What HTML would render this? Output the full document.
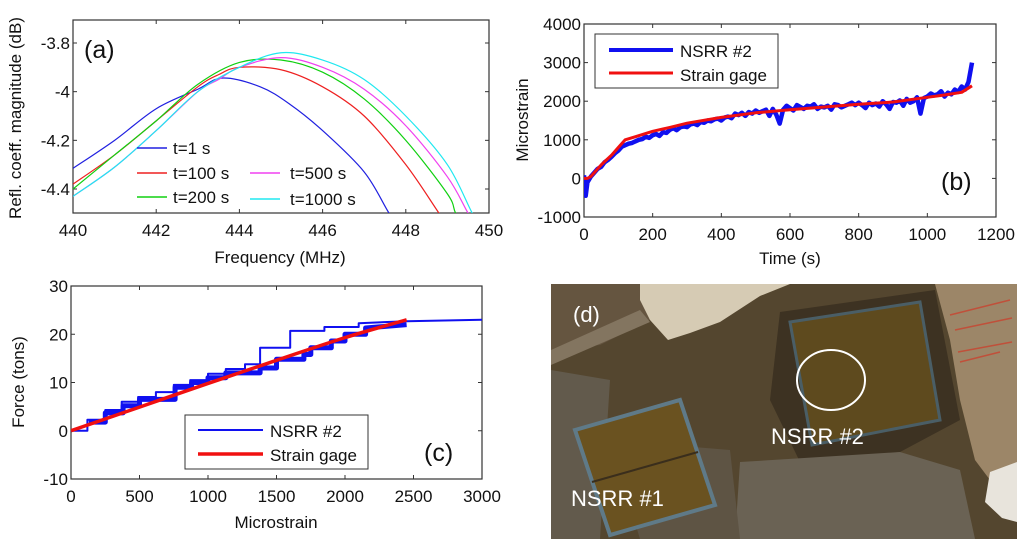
<!DOCTYPE html>
<html><head><meta charset="utf-8"><style>
html,body{margin:0;padding:0;background:#fff;}
svg{display:block;font-family:"Liberation Sans",sans-serif;}
</style></head><body>
<svg id="fig" width="1024" height="545" viewBox="0 0 1024 545">
<defs>
<clipPath id="clipA"><rect x="73" y="20" width="416" height="193"/></clipPath>
<clipPath id="clipB"><rect x="584" y="24" width="412" height="193"/></clipPath>
<clipPath id="clipC"><rect x="71" y="286" width="411" height="193"/></clipPath>
</defs>
<g id="panelA"></g>
<g id="panelB"></g>
<g id="panelC"></g>
<g id="panelD">
 <rect x="551" y="284" width="466" height="255" fill="#54462f"/>
 <polygon points="551,284 640,284 650,320 600,345 551,350" fill="#655540"/>
 <polygon points="551,350 640,310 650,322 551,365" fill="#837560"/>
 <polygon points="551,370 610,380 600,539 551,539" fill="#625a4c"/>
 <polygon points="640,284 790,284 760,296 720,322 690,333 668,340 650,320 640,300" fill="#d6cbb4"/>
 <polygon points="780,312 935,290 960,420 900,452 800,462 770,400" fill="#3d3222"/>
 <polygon points="790,322 920,302 940,420 812,445" fill="#5e4a1e" stroke="#4a5e66" stroke-width="3"/>
 <polygon points="740,462 900,452 960,470 975,539 735,539" fill="#6a6254"/>
 <polygon points="610,440 730,450 740,539 640,539" fill="#5e5444"/>
 <polygon points="935,284 1017,284 1017,470 990,480 975,460 960,400 950,340" fill="#9c8668"/>
 <g stroke="#c0503a" stroke-width="1.5">
  <line x1="950" y1="315" x2="1010" y2="300"/><line x1="955" y1="330" x2="1012" y2="318"/><line x1="958" y1="352" x2="1012" y2="342"/><line x1="960" y1="362" x2="1000" y2="352"/>
 </g>
 <polygon points="575,430 680,400 715,505 610,535" fill="#6a5220" stroke="#5f7a88" stroke-width="4"/>
 <line x1="592" y1="482" x2="698" y2="452" stroke="#3a2e1c" stroke-width="2"/>
 <polygon points="990,472 1017,462 1017,522 1002,518 985,502" fill="#e8e4dc"/>
 <ellipse cx="831" cy="380" rx="34" ry="30" fill="none" stroke="#fff" stroke-width="2"/>
 <text x="573" y="322" font-size="22" fill="#fff">(d)</text>
 <text x="771" y="444" font-size="22" fill="#fff">NSRR #2</text>
 <text x="571" y="506" font-size="22" fill="#fff">NSRR #1</text>
</g>
</svg>
<script>
// ---- Panel (a) data ----
const aFreq1 = [440,441,442,443,443.6,444.5,445.2,446,447,447.6,448];
const aT1 = [-4.315,-4.2,-4.07,-3.99,-3.944,-3.98,-4.05,-4.16,-4.33,-4.5,-4.6];
const aFreq100 = [440,441,442,443,443.5,444,445,446,447,448,448.8,449.2];
const aT100 = [-4.38,-4.26,-4.12,-3.98,-3.93,-3.9,-3.91,-3.98,-4.1,-4.3,-4.5,-4.6];
const aFreq200 = [440,441,442,443,444,445,446,447,448,449,449.2,449.5];
const aT200 = [-4.4,-4.26,-4.12,-3.97,-3.88,-3.87,-3.92,-4.03,-4.2,-4.42,-4.5,-4.58];
const aFreq500 = [440,441,442,443,443.5,444,445,446,447,448,449,449.5,449.8];
const aT500 = [-4.43,-4.31,-4.16,-4.0,-3.95,-3.9,-3.86,-3.9,-3.99,-4.14,-4.35,-4.5,-4.58];
const aFreq1000 = [440,441,442,443,444,445,446,447,448,449,449.6,449.9];
const aT1000 = [-4.43,-4.31,-4.16,-4.0,-3.9,-3.84,-3.87,-3.95,-4.1,-4.3,-4.5,-4.58];
const aXTicks = [440,442,444,446,448,450];
const aYTicks = [-3.8,-4,-4.2,-4.4];
const aYTickLabels = ["-3.8","-4","-4.2","-4.4"];
// ---- Panel (b) data ----
const bRedT = [0,10,20,50,80,100,120,150,200,250,300,400,500,600,700,800,900,1000,1050,1100,1130];
const bRedV = [0,0,50,350,600,800,1000,1080,1220,1320,1430,1580,1700,1780,1850,1920,1980,2100,2160,2230,2400];
const bBlueT = [0,5,10,20,30,40,50,60,70,80,90,100,110,120,130,140,150,160,170,180,190,200,210,220,230,240,250,260,270,280,290,300,310,320,330,340,350,360,370,380,390,400,410,420,430,440,450,460,470,480,490,500,510,520,530,540,550,560,570,580,590,600,610,620,630,640,650,660,670,680,690,700,710,720,730,740,750,760,770,780,790,800,810,820,830,840,850,860,870,880,890,900,910,920,930,940,950,960,970,980,990,1000,1010,1020,1030,1040,1050,1060,1070,1080,1090,1100,1110,1120,1130];
const bBlueV = [80,-450,-100,50,150,250,300,420,480,560,650,720,820,860,900,920,960,1000,1020,1080,1050,1120,1150,1100,1200,1180,1260,1300,1250,1320,1350,1330,1400,1420,1380,1460,1440,1500,1480,1530,1550,1500,1580,1600,1560,1680,1640,1700,1620,1720,1680,1760,1700,1740,1780,1620,1800,1650,1420,1780,1880,1820,1760,1900,1850,1800,1880,1860,1920,1800,1860,1840,1880,1780,1920,1900,1840,1880,1920,1960,1900,1960,1900,1820,1960,1900,1940,1860,2000,1920,1800,1980,1960,2020,1880,2060,1960,2000,2100,1680,2080,2120,2200,2150,2180,2260,2120,2220,2180,2300,2240,2380,2300,2500,3000];
const bXTicks = [0,200,400,600,800,1000,1200];
const bYTicks = [-1000,0,1000,2000,3000,4000];
// ---- Panel (c) data ----
const cRedX = [0,500,1000,1500,2000,2450];
const cRedY = [0,4.9,9.8,14.6,19.3,23];
const cBlueX = [0,120,120,250,250,370,370,490,490,620,620,750,750,870,870,1000,1000,1130,1130,1270,1270,1380,1380,1600,1600,1850,1850,2100,2100,2450,3000];
const cBlueY = [0,0,2.3,2.3,4.3,4.3,6,6,7,7,8,8,9.5,9.5,10.5,10.5,11.8,11.8,12.8,12.8,13.8,13.8,17.2,17.2,20.7,20.7,21.5,21.5,22.3,22.7,23];
const cBandX = [130,250,250,380,380,500,500,760,760,880,880,1000,1000,1130,1130,1380,1380,1500,1500,1700,1700,1750,1750,1900,1900,2000,2000,2150,2150,2450];
const cBandY = [1.8,1.8,3.7,3.7,5.2,5.2,6.5,6.5,9,9,10,10,11,11,12,12,13,13,14.8,14.8,15.8,15.8,17.2,17.2,18.6,18.6,20,20,21.3,22];
const cXTicks = [0,500,1000,1500,2000,2500,3000];
const cYTicks = [-10,0,10,20,30];

const NS = "http://www.w3.org/2000/svg";
function el(tag, attrs, parent){const e=document.createElementNS(NS,tag);for(const k in attrs)e.setAttribute(k,attrs[k]);parent.appendChild(e);return e;}
function scale(d0,d1,p0,p1){return v=>p0+(v-d0)*(p1-p0)/(d1-d0);}

function axes(g, x0,y0,w,h, sx, sy, xt, yt, ylab, fs){
  const box=el('rect',{x:x0,y:y0,width:w,height:h,fill:'none',stroke:'#333','stroke-width':1.2},g);
  
  
  xt.forEach(v=>{
    const x=sx(v);
    el('line',{x1:x,y1:y0+h,x2:x,y2:y0+h-4,stroke:'#333'},g);
    el('line',{x1:x,y1:y0,x2:x,y2:y0+4,stroke:'#333'},g);
    const t=el('text',{x:x,y:y0+h+23,'font-size':fs,'text-anchor':'middle',fill:'#111'},g);
    t.textContent=String(v);
    
    
  });
  yt.forEach((v,i)=>{
    const y=sy(v);
    el('line',{x1:x0,y1:y,x2:x0+4,y2:y,stroke:'#333'},g);
    el('line',{x1:x0+w,y1:y,x2:x0+w-4,y2:y,stroke:'#333'},g);
    const t=el('text',{x:x0-3,y:y+6,'font-size':fs,'text-anchor':'end',fill:'#111'},g);
    t.textContent=ylab?ylab[i]:String(v);
    
    
  });
}
function line(g,xs,ys,sx,sy,color,w,clip,name){
  const pts=xs.map((x,i)=>sx(x).toFixed(1)+','+sy(ys[i]).toFixed(1)).join(' ');
  const p=el('polyline',{points:pts,fill:'none',stroke:color,'stroke-width':w,'stroke-linejoin':'round','clip-path':'url(#'+clip+')'},g);
  
  
  return p;
}
function smooth(g,xs,ys,sx,sy,color,w,clip,name){
  const P=xs.map((x,i)=>[sx(x),sy(ys[i])]);
  let d='M'+P[0][0]+','+P[0][1];
  for(let i=0;i<P.length-1;i++){
    const p0=P[Math.max(0,i-1)],p1=P[i],p2=P[i+1],p3=P[Math.min(P.length-1,i+2)];
    const c1=[p1[0]+(p2[0]-p0[0])/6,p1[1]+(p2[1]-p0[1])/6];
    const c2=[p2[0]-(p3[0]-p1[0])/6,p2[1]-(p3[1]-p1[1])/6];
    d+=' C'+c1.join(',')+' '+c2.join(',')+' '+p2.join(',');
  }
  const p=el('path',{d:d,fill:'none',stroke:color,'stroke-width':w,'clip-path':'url(#'+clip+')'},g);
  
  
}
function txt(g,x,y,s,str,name,anchor,rot){
  const a={x:x,y:y,'font-size':s,fill:'#111','text-anchor':anchor||'start'};
  if(rot)a.transform='rotate(-90 '+x+' '+y+')';
  const t=el('text',a,g);t.textContent=str;
  
  
}

// Panel A
(function(){
  const g=document.getElementById('panelA');
  const sx=scale(440,450,73,489), sy=scale(-3.8,-4.4,43,189);
  axes(g,73,20,416,193,sx,sy,aXTicks,aYTicks,aYTickLabels,17);
  smooth(g,aFreq1,aT1,sx,sy,'#2020e0',1.2,'clipA','series-t1');
  smooth(g,aFreq100,aT100,sx,sy,'#ee2020',1.2,'clipA','series-t100');
  smooth(g,aFreq200,aT200,sx,sy,'#10d010',1.2,'clipA','series-t200');
  smooth(g,aFreq500,aT500,sx,sy,'#f040f0',1.2,'clipA','series-t500');
  smooth(g,aFreq1000,aT1000,sx,sy,'#20e8f0',1.2,'clipA','series-t1000');
  txt(g,84,58,25,'(a)','panel-a-label');
  txt(g,280,263,17,'Frequency (MHz)','x-axis-title','middle');
  txt(g,21,118,17,'Refl. coeff. magnitude (dB)','y-axis-title','middle',true);
  const leg=[['t=1 s','#2020e0',137,148,173],['t=100 s','#ee2020',137,173,173],['t=200 s','#10d010',137,197,173],['t=500 s','#f040f0',250,173,290],['t=1000 s','#20e8f0',250,199,290]];
  leg.forEach(l=>{
    const ln=el('line',{x1:l[2],y1:l[3],x2:l[2]+30,y2:l[3],stroke:l[1],'stroke-width':1.5},g);
    
    
    txt(g,l[4],l[3]+6,17,l[0],'legend-entry');
  });
})();
// Panel B
(function(){
  const g=document.getElementById('panelB');
  const sx=scale(0,1200,584,996), sy=scale(4000,-1000,24,217);
  axes(g,584,24,412,193,sx,sy,bXTicks,bYTicks,null,17);
  line(g,bBlueT,bBlueV,sx,sy,'#1010f0',4.5,'clipB','nsrr2-series');
  line(g,bRedT,bRedV,sx,sy,'#f01010',3,'clipB','strain-gage-series');
  const lb=el('rect',{x:595,y:34,width:183,height:54,fill:'#fff',stroke:'#333'},g);
  
  
  el('line',{x1:609,y1:50,x2:673,y2:50,stroke:'#1010f0','stroke-width':4},g);
  el('line',{x1:609,y1:73,x2:673,y2:73,stroke:'#f01010','stroke-width':3},g);
  txt(g,680,57,17,'NSRR #2','legend-entry');
  txt(g,680,81,17,'Strain gage','legend-entry');
  txt(g,941,190,25,'(b)','panel-b-label');
  txt(g,790,264,17,'Time (s)','x-axis-title','middle');
  txt(g,528,120,17,'Microstrain','y-axis-title','middle',true);
})();
// Panel C
(function(){
  const g=document.getElementById('panelC');
  const sx=scale(0,3000,71,482), sy=scale(30,-10,286,479);
  axes(g,71,286,411,193,sx,sy,cXTicks,cYTicks,null,17);
  line(g,cBandX,cBandY,sx,sy,'#1010f0',5,'clipC','nsrr2-band');
  line(g,cBlueX,cBlueY,sx,sy,'#1010f0',2,'clipC','nsrr2-series');
  smooth(g,cRedX,cRedY,sx,sy,'#f01010',3.5,'clipC','strain-gage-series');
  const lb=el('rect',{x:185,y:415,width:183,height:54,fill:'#fff',stroke:'#333'},g);
  
  
  el('line',{x1:198,y1:430,x2:263,y2:430,stroke:'#1010f0','stroke-width':2},g);
  el('line',{x1:198,y1:454,x2:263,y2:454,stroke:'#f01010','stroke-width':3.5},g);
  txt(g,270,437,17,'NSRR #2','legend-entry');
  txt(g,270,461,17,'Strain gage','legend-entry');
  txt(g,424,461,25,'(c)','panel-c-label');
  txt(g,276,528,17,'Microstrain','x-axis-title','middle');
  txt(g,24,382,17,'Force (tons)','y-axis-title','middle',true);
})();
</script>
</body></html>
